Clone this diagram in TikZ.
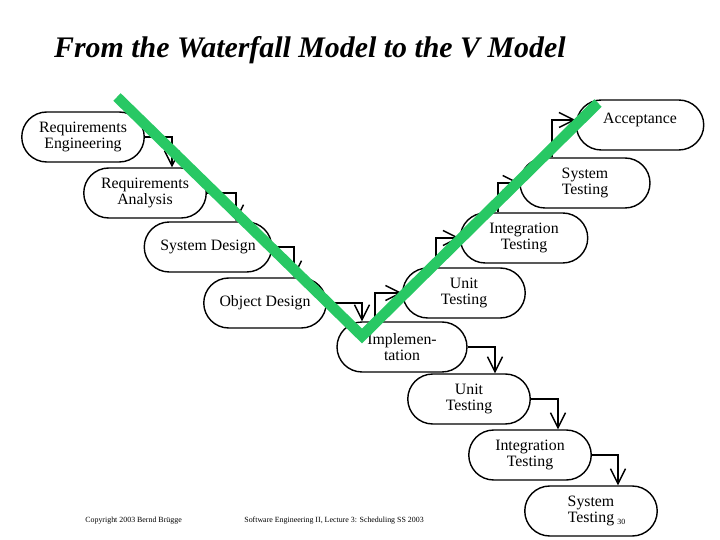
\documentclass[tikz,border=0pt]{standalone}
\usepackage{fontspec}
\setmainfont{Liberation Serif}
\usetikzlibrary{arrows.meta}

\tikzstyle{phase} = [rectangle, rounded corners=0.5cm, minimum width=2.45cm, minimum height=1cm, text centered, align=center, draw=black, thick, font=\fontsize{9}{9.5}\selectfont, inner sep=2pt]
\tikzstyle{arrow} = [thick,-{Straight Barb[length=3mm,width=3mm]}]
\tikzstyle{foot} = [font=\fontsize{4.5}{5}\selectfont, inner sep=0pt, anchor=west]

\begin{document}
\begin{tikzpicture}[x=0.02cm,y=-0.02cm]
        \useasboundingbox (0,0) rectangle (720,540);
        \node (title) [font=\fontsize{17}{20}\selectfont\bfseries\itshape, anchor=west] at (48,50) {From the Waterfall Model to the V Model};

        \node (reqeng) [phase] at (83,137) {Requirements\\Engineering};
        \node (reqana) [phase] at (145,193) {Requirements\\Analysis};
        \node (sysdes) [phase, minimum width=2.55cm] at (208,247) {System Design};
        \node (objdes) [phase] at (265,303) {Object Design};
        \node (impl) [phase, minimum width=2.6cm] at (402,347) {Implemen-\\tation};
        \node (unitbot) [phase] at (469,399) {Unit\\Testing};
        \node (integbot) [phase] at (530,455) {Integration\\Testing};
        \node (sysbot) [phase, minimum width=2.65cm] at (591,511) {System\\Testing};
        \node (unittop) [phase] at (464,293) {Unit\\Testing};
        \node (integtop) [phase, minimum width=2.55cm] at (524,238) {Integration\\Testing};
        \node (systop) [phase, minimum width=2.6cm] at (585,183) {System\\Testing};
        \node (accept) [phase, minimum width=2.55cm] at (640,125) {};
        \node (accepttext) [font=\fontsize{9}{9.5}\selectfont] at (640,120) {Acceptance};

        \draw [arrow] (reqeng.east) -| ([xshift=0.54cm]reqana.north);
        \draw [arrow] (reqana.east) -| ([xshift=0.56cm]sysdes.north);
        \draw [arrow] (sysdes.east) -| ([xshift=0.58cm]objdes.north);
        \draw [arrow] (objdes.east) -| ([xshift=-0.8cm]impl.north);
        \draw [arrow] (impl.east) -| ([xshift=0.52cm]unitbot.north);
        \draw [arrow] (unitbot.east) -| ([xshift=0.56cm]integbot.north);
        \draw [arrow] (integbot.east) -| ([xshift=0.54cm]sysbot.north);

        \draw [arrow] ([xshift=-0.54cm]impl.north) |- (unittop.west);
        \draw [arrow] ([xshift=-0.56cm]unittop.north) |- (integtop.west);
        \draw [arrow] ([xshift=-0.52cm]integtop.north) |- (systop.west);
        \draw [arrow] ([xshift=-0.66cm]systop.north) |- ([yshift=0.1cm]accept.west);

        % the V
        \coordinate (vtopleft) at (117,97);
        \coordinate (vbottom) at (362,336);
        \coordinate (vtopright) at (598,103);
        \draw [line width=6pt, color={rgb,255:red,40;green,200;blue,100}, line join=miter] (vtopleft) -- (vbottom) -- (vtopright);

        \node (copy) [foot] at (85,521) {Copyright 2003 Bernd Br\"ugge};
        \node (lecture) [foot] at (244,521) {Software Engineering II, Lecture 3: Scheduling SS 2003};
        \node (page) [foot] at (617,522) {30};
\end{tikzpicture}
\end{document}
